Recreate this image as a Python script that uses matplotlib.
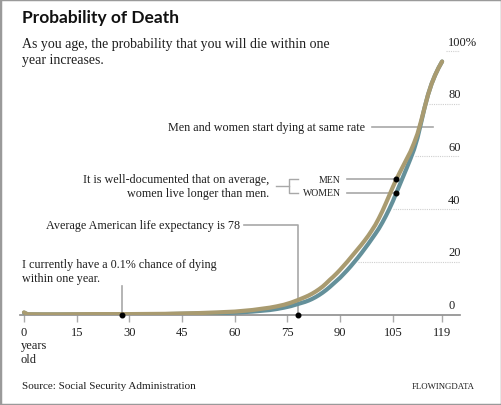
import numpy as np
import matplotlib
matplotlib.use("Agg")
import matplotlib.pyplot as plt
from matplotlib.patches import Rectangle

# probability of dying within one year (%)
ages = [0, 1, 5, 10, 15, 20, 25, 30, 35, 40, 45, 50, 55, 60, 65, 70, 72, 74, 76, 78,
        80, 81, 82, 83, 84, 85, 86, 87, 88, 89, 90, 91, 92, 93, 94, 95, 96, 97, 98, 99,
        100, 101, 102, 103, 104, 105, 106, 107, 108, 109, 110, 111, 112, 113, 114, 115,
        116, 117, 118, 119]
men = [0.8, 0.1, 0.05, 0.05, 0.1, 0.15, 0.15, 0.15, 0.2, 0.25, 0.4, 0.55, 0.8, 1.1, 1.7, 2.6, 3.1, 3.7, 4.5, 5.5,
       6.6, 7.2, 7.9, 8.7, 9.6, 10.6, 11.8, 13.1, 14.3, 15.6, 17.0, 18.5, 20.0, 21.6, 23.2, 24.8, 26.4, 28.1, 29.9, 31.9,
       34.0, 36.5, 39.2, 42.2, 45.3, 48.4, 51.3, 54.0, 56.6, 59.2, 61.8, 65.0, 68.6, 73.3, 78.4, 83.4,
       87.5, 90.8, 93.6, 96.0]
women = [0.7, 0.05, 0.02, 0.02, 0.03, 0.05, 0.05, 0.07, 0.1, 0.15, 0.25, 0.35, 0.5, 0.7, 1.1, 1.7, 2.1, 2.6, 3.2, 4.0,
         4.8, 5.3, 5.9, 6.6, 7.4, 8.3, 9.3, 10.4, 11.6, 12.8, 14.0, 15.4, 16.8, 18.3, 19.9, 21.5, 23.2, 25.0, 26.8, 28.7,
         30.6, 32.6, 34.9, 37.4, 40.1, 43.0, 46.2, 49.4, 52.6, 55.8, 59.1, 62.6, 67.0, 72.6, 78.4, 83.4,
         87.5, 90.8, 93.6, 96.0]

xticks = [0, 15, 30, 45, 60, 75, 90, 105, 119]
yticks = [0, 20, 40, 60, 80, 100]
ylabels = ["0", "20", "40", "60", "80", "100%"]

life_expectancy = 78
my_age = 28
marked_age = 106

TAN = "#a99b70"
BLUE = "#64909a"
GRAY = "#a8a8a8"
TXT = "#1e1e1e"
SERIF = "Liberation Serif"
FS = 8.7

fig = plt.figure(figsize=(5.02, 4.06), dpi=100)
ax = fig.add_axes([20 / 502, 90.5 / 406, 440 / 502, 275.5 / 406])
ax.set_xlim(-1.14, 124.1)
ax.set_ylim(0, 104.55)

# dotted gridlines starting at the curve
for v, lab in zip(yticks, ylabels):
    if v > 0:
        x0 = np.interp(v, women, ages) if v < max(women) else 119
        ax.plot([x0 + 1, 124], [v, v], color="#cfcfcf", lw=0.8, ls=(0, (1, 1)), zorder=1)
    ax.text(120.7, v + 1.3, lab, ha="left", va="bottom",
            fontsize=9, family=SERIF, color=TXT)

ax.plot(ages, women, color=BLUE, lw=3.0, solid_capstyle="round", zorder=3)
ax.plot(ages, men, color=TAN, lw=3.0, solid_capstyle="round", zorder=4)

for s in ["top", "left", "right"]:
    ax.spines[s].set_visible(False)
ax.spines["bottom"].set_color("#8c8c8c")
ax.spines["bottom"].set_linewidth(1.2)
ax.set_yticks([])
ax.set_xticks(xticks)
ax.set_xticklabels([str(t) for t in xticks], family=SERIF, fontsize=9, color=TXT)
ax.tick_params(axis="x", length=5, width=1, color="#aaaaaa", pad=3)
ax.annotate("years\nold", xy=(0, 0), xycoords="data", xytext=(-2.5, -18),
            textcoords="offset points", ha="left", va="top", fontsize=9,
            family=SERIF, color=TXT, linespacing=1.15)

# annotations
ax.text(97.1, 71.2, "Men and women start dying at same rate", ha="right", va="center",
        fontsize=FS, family=SERIF, color=TXT)
ax.plot([99.1, 116.4], [71.2, 71.2], color=GRAY, lw=1.2, zorder=2)

m_dot = men[ages.index(marked_age)]
w_dot = women[ages.index(marked_age)]
mid = (m_dot + w_dot) / 2
ax.text(69.7, mid, "It is well-documented that on average,\nwomen live longer than men.",
        ha="right", va="center", fontsize=FS, family=SERIF, color=TXT, linespacing=1.15)
ax.plot([71.7, 75.4], [mid, mid], color=GRAY, lw=1.0)
ax.plot([78.1, 75.4, 75.4, 78.1], [m_dot, m_dot, w_dot, w_dot], color=GRAY, lw=1.0)
ax.text(90.2, m_dot, "MEN", ha="right", va="center", fontsize=7, family=SERIF, color=TXT)
ax.text(90.2, w_dot, "WOMEN", ha="right", va="center", fontsize=7, family=SERIF, color=TXT)
ax.plot([91.9, marked_age], [m_dot, m_dot], color=GRAY, lw=1.2, zorder=2)
ax.plot([91.9, marked_age], [w_dot, w_dot], color=GRAY, lw=1.2, zorder=2)
ax.plot([marked_age, marked_age], [m_dot, w_dot], "o", color="black", ms=3.3, zorder=6)

ax.text(61.5, 34.0, "Average American life expectancy is 78", ha="right", va="center",
        fontsize=FS, family=SERIF, color=TXT)
ax.plot([62.6, life_expectancy, life_expectancy], [34.0, 34.0, 0], color=GRAY, lw=1.2, zorder=2)
ax.plot([life_expectancy], [0], "o", color="black", ms=3.3, zorder=6, clip_on=False)

ax.text(-0.6, 16.6, "I currently have a 0.1% chance of dying\nwithin one year.", ha="left",
        va="center", fontsize=FS, family=SERIF, color=TXT, linespacing=1.2)
ax.plot([my_age, my_age], [10.8, 0], color=GRAY, lw=1.2, zorder=2)
ax.plot([my_age], [0], "o", color="black", ms=3.3, zorder=6, clip_on=False)

# titles and footer
fig.text(22 / 502, 1 - 18.5 / 406, "Probability of Death", ha="left", va="center",
         fontsize=12.5, fontweight="bold", family="Lato", color="#111111")
fig.text(22 / 502, 1 - 52.5 / 406, "As you age, the probability that you will die within one\nyear increases.",
         ha="left", va="center", fontsize=10, family=SERIF, color=TXT, linespacing=1.25)
fig.text(22 / 502, 1 - 387 / 406, "Source: Social Security Administration", ha="left", va="center",
         fontsize=8.05, family=SERIF, color=TXT)
fig.text(475 / 502, 1 - 387 / 406, "FLOWINGDATA", ha="right", va="center",
         fontsize=6.3, family=SERIF, color=TXT)

fig.patches.append(Rectangle((0, 0), 1, 1, transform=fig.transFigure, fill=False,
                             edgecolor="#9a9a9a", lw=2.5))

fig.savefig("out.png", dpi=100)
